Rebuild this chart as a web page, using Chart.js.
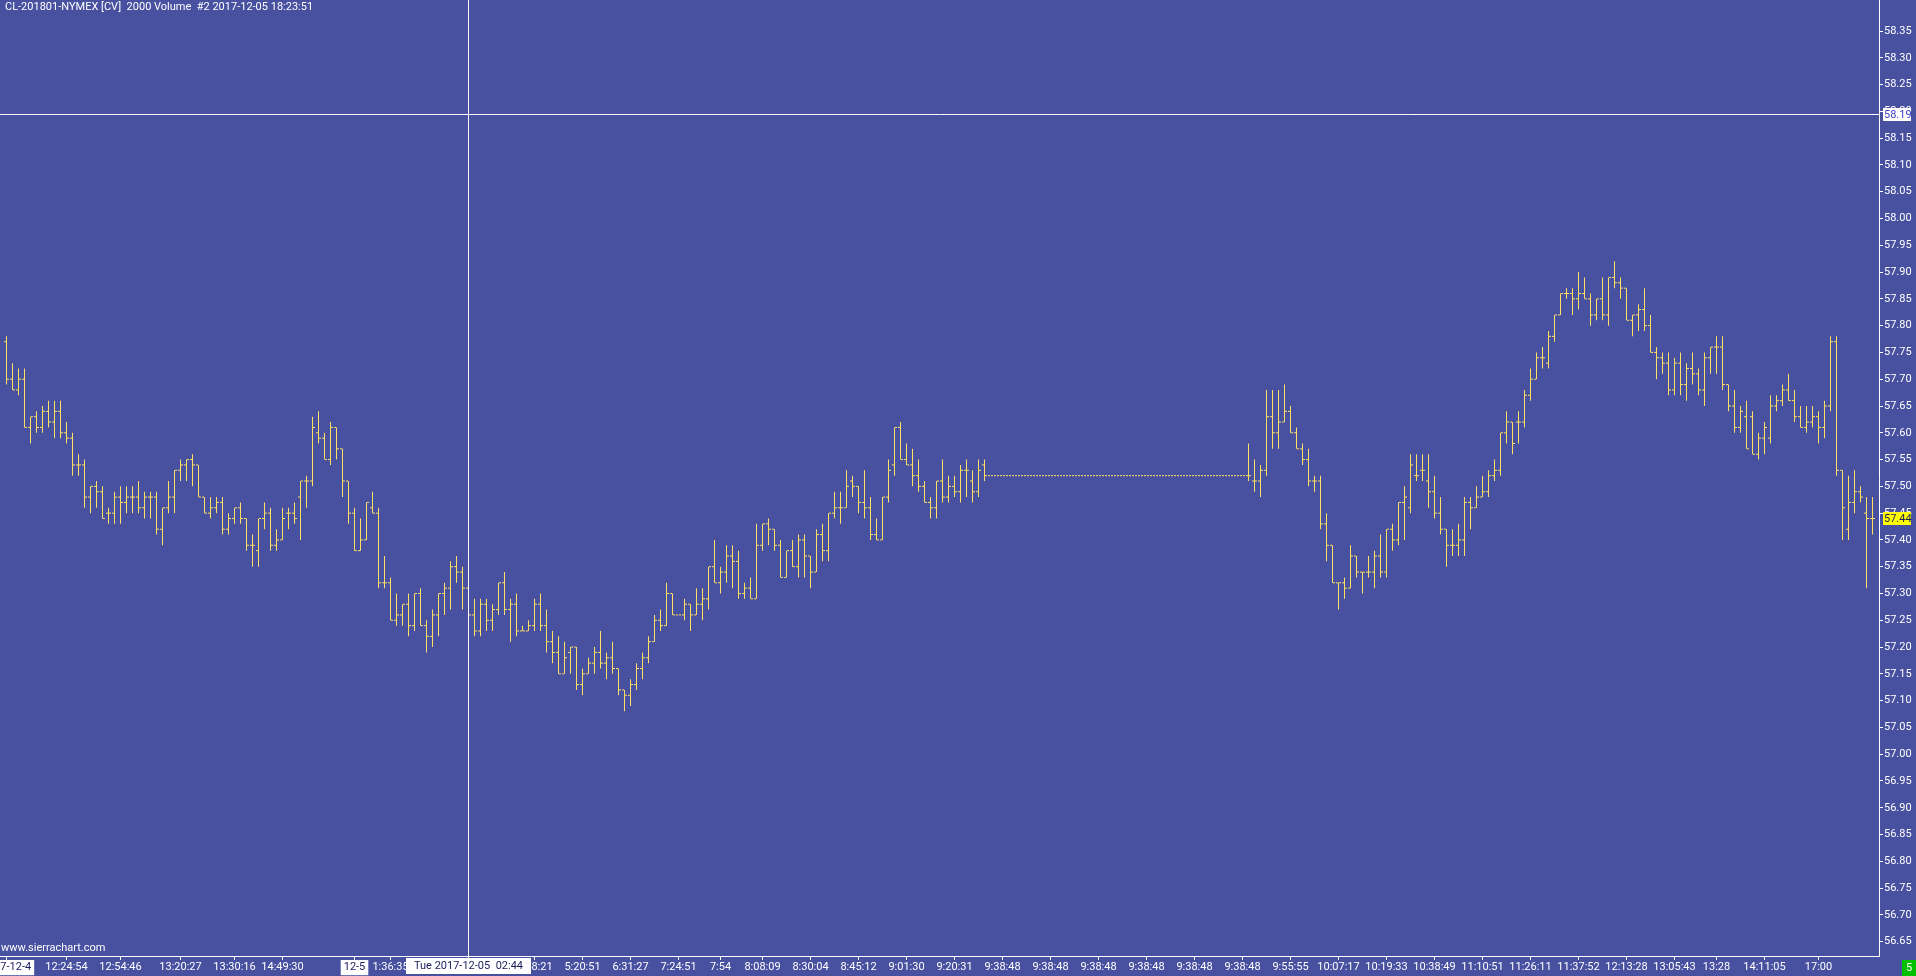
<!DOCTYPE html>
<html>
<head>
<meta charset="utf-8">
<title>CL-201801-NYMEX 2000 Volume</title>
<script src="https://cdn.jsdelivr.net/npm/chart.js@4.4.1/dist/chart.umd.min.js"></script>
<style>
  html, body { margin: 0; padding: 0; background: #4850a0; overflow: hidden; }
  #wrap { position: relative; width: 1916px; height: 976px; }
</style>
</head>
<body>
<div id="wrap"><canvas id="chart" width="1916" height="976"></canvas></div>
<script>
// CL 2000-volume bars, one entry per bar (left to right)
const opens = [
  57.77, 57.70, 57.68, 57.70, 57.61, 57.63, 57.61, 57.64, 57.62, 57.64,
  57.60, 57.59, 57.54, 57.54, 57.48, 57.50, 57.49, 57.45, 57.45, 57.48,
  57.47, 57.48, 57.48, 57.46, 57.48, 57.48, 57.42, 57.46, 57.48, 57.53,
  57.54, 57.55, 57.54, 57.48, 57.45, 57.46, 57.47, 57.42, 57.44, 57.46,
  57.44, 57.39, 57.38, 57.44, 57.45, 57.39, 57.40, 57.45, 57.45, 57.48,
  57.51, 57.51, 57.60, 57.59, 57.55, 57.61, 57.57, 57.51, 57.45, 57.38,
  57.40, 57.46, 57.45, 57.32, 57.32, 57.25, 57.26, 57.28, 57.24, 57.30,
  57.24, 57.22, 57.26, 57.30, 57.31, 57.35, 57.34, 57.31, 57.26, 57.23,
  57.28, 57.25, 57.27, 57.32, 57.27, 57.28, 57.23, 57.23, 57.24, 57.28,
  57.24, 57.21, 57.19, 57.15, 57.19, 57.20, 57.13, 57.15, 57.17, 57.19,
  57.17, 57.18, 57.16, 57.12, 57.11, 57.13, 57.16, 57.18, 57.21, 57.25,
  57.24, 57.30, 57.26, 57.26, 57.28, 57.26, 57.28, 57.29, 57.35, 57.32,
  57.34, 57.37, 57.36, 57.30, 57.31, 57.29, 57.39, 57.43, 57.42, 57.39,
  57.33, 57.38, 57.35, 57.40, 57.37, 57.34, 57.41, 57.38, 57.45, 57.46,
  57.46, 57.51, 57.50, 57.47, 57.46, 57.41, 57.40, 57.48, 57.54, 57.61,
  57.55, 57.54, 57.52, 57.50, 57.47, 57.46, 57.51, 57.48, 57.50, 57.49,
  57.53, 57.51, 57.49, 57.54,
  57.52, 57.52, 57.52, 57.52, 57.52, 57.52, 57.52, 57.52, 57.52, 57.52,
  57.52, 57.52, 57.52, 57.52, 57.52, 57.52, 57.52, 57.52, 57.52, 57.52,
  57.52, 57.52, 57.52, 57.52, 57.52, 57.52, 57.52, 57.52, 57.52, 57.52,
  57.52, 57.52, 57.52, 57.52, 57.52, 57.52, 57.52, 57.52, 57.52, 57.52,
  57.52, 57.52, 57.52,
  57.52, 57.51, 57.51, 57.53, 57.63, 57.60, 57.62, 57.64, 57.60, 57.57,
  57.55, 57.51, 57.51, 57.43, 57.39, 57.32, 57.32, 57.31, 57.37, 57.34,
  57.34, 57.34, 57.37, 57.34, 57.42, 57.40, 57.47, 57.46, 57.52, 57.53,
  57.51, 57.49, 57.45, 57.42, 57.39, 57.39, 57.40,
  57.47, 57.46, 57.48, 57.49, 57.52, 57.53, 57.60, 57.62, 57.62, 57.62,
  57.67, 57.70, 57.74, 57.73, 57.78, 57.82, 57.86, 57.86, 57.85, 57.86,
  57.85, 57.82, 57.85, 57.82, 57.89, 57.88, 57.87, 57.81, 57.82, 57.83,
  57.80, 57.75, 57.74, 57.73,
  57.68, 57.73, 57.69, 57.72, 57.71, 57.68, 57.74, 57.76, 57.76, 57.69,
  57.65, 57.61, 57.63, 57.63, 57.56, 57.59, 57.59, 57.65, 57.66, 57.68,
  57.66, 57.63, 57.61, 57.62, 57.63, 57.61, 57.65, 57.77, 57.53, 57.42,
  57.47, 57.49, 57.45, 57.44
];

const highs = [
  57.78, 57.73, 57.72, 57.72, 57.63, 57.64, 57.65, 57.66, 57.66, 57.66,
  57.62, 57.60, 57.56, 57.55, 57.50, 57.51, 57.50, 57.46, 57.49, 57.50,
  57.50, 57.50, 57.51, 57.49, 57.49, 57.49, 57.46, 57.51, 57.53, 57.55,
  57.55, 57.56, 57.54, 57.48, 57.48, 57.48, 57.48, 57.45, 57.46, 57.47,
  57.44, 57.41, 57.44, 57.47, 57.46, 57.42, 57.46, 57.46, 57.47, 57.51,
  57.52, 57.63, 57.64, 57.60, 57.62, 57.61, 57.57, 57.51, 57.46, 57.44,
  57.47, 57.49, 57.46, 57.37, 57.33, 57.30, 57.28, 57.30, 57.30, 57.31,
  57.25, 57.27, 57.30, 57.32, 57.36, 57.37, 57.35, 57.32, 57.29, 57.29,
  57.29, 57.28, 57.32, 57.34, 57.29, 57.30, 57.24, 57.25, 57.29, 57.30,
  57.27, 57.23, 57.22, 57.21, 57.20, 57.20, 57.16, 57.18, 57.20, 57.23,
  57.19, 57.21, 57.16, 57.12, 57.14, 57.17, 57.19, 57.22, 57.26, 57.27,
  57.32, 57.30, 57.26, 57.29, 57.28, 57.31, 57.31, 57.35, 57.40, 57.35,
  57.39, 57.39, 57.38, 57.32, 57.33, 57.43, 57.43, 57.44, 57.42, 57.40,
  57.38, 57.40, 57.41, 57.41, 57.37, 57.42, 57.43, 57.45, 57.49, 57.49,
  57.53, 57.52, 57.50, 57.53, 57.48, 57.44, 57.48, 57.55, 57.61, 57.62,
  57.58, 57.57, 57.55, 57.51, 57.48, 57.51, 57.55, 57.52, 57.52, 57.54,
  57.55, 57.53, 57.55, 57.55,
  57.52, 57.52, 57.52, 57.52, 57.52, 57.52, 57.52, 57.52, 57.52, 57.52,
  57.52, 57.52, 57.52, 57.52, 57.52, 57.52, 57.52, 57.52, 57.52, 57.52,
  57.52, 57.52, 57.52, 57.52, 57.52, 57.52, 57.52, 57.52, 57.52, 57.52,
  57.52, 57.52, 57.52, 57.52, 57.52, 57.52, 57.52, 57.52, 57.52, 57.52,
  57.52, 57.52, 57.52,
  57.58, 57.55, 57.54, 57.68, 57.68, 57.68, 57.69, 57.65, 57.61, 57.58,
  57.57, 57.52, 57.52, 57.45, 57.39, 57.32, 57.33, 57.39, 57.37, 57.34,
  57.37, 57.38, 57.41, 57.42, 57.43, 57.47, 57.50, 57.56, 57.56, 57.56,
  57.56, 57.52, 57.48, 57.42, 57.42, 57.43, 57.48,
  57.48, 57.50, 57.52, 57.53, 57.55, 57.60, 57.64, 57.62, 57.64, 57.68,
  57.72, 57.75, 57.76, 57.79, 57.82, 57.86, 57.87, 57.87, 57.90, 57.89,
  57.86, 57.85, 57.89, 57.89, 57.92, 57.89, 57.87, 57.82, 57.84, 57.87,
  57.82, 57.76, 57.75, 57.75,
  57.74, 57.75, 57.73, 57.75, 57.72, 57.75, 57.76, 57.78, 57.78, 57.69,
  57.68, 57.65, 57.66, 57.64, 57.60, 57.62, 57.67, 57.67, 57.69, 57.71,
  57.68, 57.65, 57.65, 57.65, 57.64, 57.66, 57.78, 57.78, 57.53, 57.52,
  57.53, 57.50, 57.48, 57.48
];

const lows = [
  57.69, 57.68, 57.67, 57.61, 57.58, 57.60, 57.60, 57.61, 57.59, 57.59,
  57.58, 57.52, 57.52, 57.46, 57.45, 57.46, 57.44, 57.43, 57.43, 57.43,
  57.45, 57.45, 57.45, 57.44, 57.44, 57.41, 57.39, 57.45, 57.45, 57.51,
  57.51, 57.50, 57.48, 57.45, 57.44, 57.45, 57.41, 57.41, 57.43, 57.43,
  57.38, 57.35, 57.35, 57.42, 57.38, 57.38, 57.40, 57.42, 57.43, 57.40,
  57.46, 57.50, 57.58, 57.55, 57.54, 57.55, 57.48, 57.43, 57.38, 57.38,
  57.40, 57.45, 57.31, 57.31, 57.25, 57.24, 57.24, 57.22, 57.23, 57.24,
  57.19, 57.20, 57.22, 57.26, 57.27, 57.32, 57.27, 57.24, 57.22, 57.22,
  57.23, 57.23, 57.26, 57.26, 57.21, 57.22, 57.23, 57.23, 57.23, 57.23,
  57.19, 57.17, 57.15, 57.15, 57.15, 57.12, 57.11, 57.15, 57.15, 57.16,
  57.14, 57.15, 57.11, 57.08, 57.09, 57.12, 57.14, 57.17, 57.21, 57.23,
  57.24, 57.26, 57.26, 57.25, 57.23, 57.26, 57.25, 57.27, 57.32, 57.30,
  57.32, 57.31, 57.29, 57.29, 57.29, 57.29, 57.38, 57.39, 57.38, 57.33,
  57.33, 57.35, 57.33, 57.33, 57.31, 57.34, 57.36, 57.36, 57.44, 57.43,
  57.46, 57.48, 57.45, 57.44, 57.40, 57.40, 57.40, 57.47, 57.52, 57.55,
  57.54, 57.50, 57.49, 57.47, 57.44, 57.44, 57.47, 57.47, 57.48, 57.47,
  57.48, 57.47, 57.48, 57.51,
  57.52, 57.52, 57.52, 57.52, 57.52, 57.52, 57.52, 57.52, 57.52, 57.52,
  57.52, 57.52, 57.52, 57.52, 57.52, 57.52, 57.52, 57.52, 57.52, 57.52,
  57.52, 57.52, 57.52, 57.52, 57.52, 57.52, 57.52, 57.52, 57.52, 57.52,
  57.52, 57.52, 57.52, 57.52, 57.52, 57.52, 57.52, 57.52, 57.52, 57.52,
  57.52, 57.52, 57.52,
  57.51, 57.49, 57.48, 57.52, 57.57, 57.57, 57.62, 57.60, 57.57, 57.54,
  57.50, 57.49, 57.42, 57.36, 57.32, 57.27, 57.29, 57.31, 57.33, 57.30,
  57.33, 57.31, 57.33, 57.33, 57.38, 57.39, 57.40, 57.45, 57.51, 57.51,
  57.46, 57.44, 57.41, 57.35, 57.37, 57.37, 57.37,
  57.42, 57.46, 57.48, 57.48, 57.51, 57.52, 57.58, 57.56, 57.58, 57.61,
  57.66, 57.70, 57.72, 57.72, 57.77, 57.82, 57.85, 57.82, 57.83, 57.85,
  57.80, 57.81, 57.81, 57.80, 57.87, 57.85, 57.81, 57.78, 57.79, 57.79,
  57.75, 57.70, 57.71, 57.67,
  57.67, 57.67, 57.66, 57.69, 57.67, 57.65, 57.71, 57.71, 57.68, 57.64,
  57.60, 57.60, 57.57, 57.56, 57.55, 57.56, 57.58, 57.64, 57.65, 57.66,
  57.62, 57.61, 57.60, 57.61, 57.58, 57.59, 57.64, 57.52, 57.40, 57.40,
  57.45, 57.47, 57.31, 57.41
];

const closes = [
  57.70, 57.68, 57.70, 57.61, 57.63, 57.61, 57.64, 57.62, 57.64, 57.60,
  57.59, 57.54, 57.54, 57.48, 57.50, 57.49, 57.44, 57.45, 57.48, 57.47,
  57.48, 57.48, 57.46, 57.48, 57.48, 57.42, 57.46, 57.48, 57.53, 57.54,
  57.55, 57.54, 57.48, 57.45, 57.46, 57.47, 57.42, 57.44, 57.46, 57.44,
  57.39, 57.39, 57.44, 57.45, 57.39, 57.40, 57.44, 57.45, 57.44, 57.51,
  57.51, 57.61, 57.59, 57.55, 57.61, 57.57, 57.51, 57.45, 57.38, 57.40,
  57.47, 57.45, 57.32, 57.32, 57.25, 57.26, 57.28, 57.24, 57.30, 57.24,
  57.22, 57.26, 57.30, 57.31, 57.35, 57.34, 57.31, 57.26, 57.23, 57.28,
  57.25, 57.27, 57.32, 57.27, 57.28, 57.23, 57.23, 57.24, 57.28, 57.24,
  57.21, 57.19, 57.15, 57.18, 57.20, 57.13, 57.15, 57.17, 57.19, 57.17,
  57.18, 57.16, 57.12, 57.11, 57.13, 57.16, 57.18, 57.21, 57.25, 57.24,
  57.30, 57.26, 57.26, 57.28, 57.26, 57.28, 57.29, 57.35, 57.32, 57.34,
  57.37, 57.36, 57.30, 57.31, 57.29, 57.39, 57.43, 57.42, 57.39, 57.33,
  57.38, 57.35, 57.40, 57.37, 57.34, 57.41, 57.38, 57.45, 57.46, 57.46,
  57.50, 57.50, 57.47, 57.46, 57.41, 57.40, 57.48, 57.53, 57.61, 57.55,
  57.54, 57.52, 57.50, 57.47, 57.46, 57.51, 57.48, 57.50, 57.49, 57.53,
  57.53, 57.49, 57.53, 57.52,
  57.52, 57.52, 57.52, 57.52, 57.52, 57.52, 57.52, 57.52, 57.52, 57.52,
  57.52, 57.52, 57.52, 57.52, 57.52, 57.52, 57.52, 57.52, 57.52, 57.52,
  57.52, 57.52, 57.52, 57.52, 57.52, 57.52, 57.52, 57.52, 57.52, 57.52,
  57.52, 57.52, 57.52, 57.52, 57.52, 57.52, 57.52, 57.52, 57.52, 57.52,
  57.52, 57.52, 57.52,
  57.52, 57.51, 57.53, 57.63, 57.60, 57.62, 57.64, 57.60, 57.57, 57.55,
  57.51, 57.51, 57.43, 57.39, 57.32, 57.32, 57.31, 57.37, 57.34, 57.34,
  57.34, 57.37, 57.34, 57.42, 57.40, 57.47, 57.48, 57.54, 57.52, 57.53,
  57.49, 57.45, 57.42, 57.39, 57.39, 57.40, 57.47,
  57.46, 57.48, 57.49, 57.52, 57.53, 57.60, 57.62, 57.58, 57.62, 57.67,
  57.70, 57.74, 57.74, 57.78, 57.82, 57.86, 57.86, 57.85, 57.86, 57.85,
  57.82, 57.85, 57.82, 57.89, 57.88, 57.87, 57.81, 57.82, 57.83, 57.80,
  57.75, 57.74, 57.73, 57.68,
  57.73, 57.69, 57.72, 57.71, 57.68, 57.74, 57.76, 57.76, 57.69, 57.65,
  57.61, 57.64, 57.57, 57.56, 57.59, 57.61, 57.65, 57.66, 57.68, 57.66,
  57.63, 57.61, 57.62, 57.63, 57.61, 57.65, 57.77, 57.53, 57.46, 57.47,
  57.49, 57.48, 57.44, 57.44
];

// time axis labels and the bar each one sits under
const timeTickBars = [0, 10, 19, 29, 38, 46, 58, 64, 88, 96, 104, 112, 119, 126, 134, 142, 150, 158,
  166, 174, 182, 190, 198, 206, 214, 222, 230, 238, 246, 254, 262, 270, 278, 285, 293, 302];
const timeTickLabels = ['2017-12-4', '12:24:54', '12:54:46', '13:20:27', '13:30:16', '14:49:30', '12-5',
  '1:36:35', '3:48:21', '5:20:51', '6:31:27', '7:24:51', '7:54', '8:08:09', '8:30:04', '8:45:12',
  '9:01:30', '9:20:31', '9:38:48', '9:38:48', '9:38:48', '9:38:48', '9:38:48', '9:38:48', '9:55:55',
  '10:07:17', '10:19:33', '10:38:49', '11:10:51', '11:26:11', '11:37:52', '12:13:28', '13:05:43',
  '13:28', '14:11:05', '17:00'];

const priceTicks = [56.65, 56.70, 56.75, 56.80, 56.85, 56.90, 56.95, 57.00, 57.05, 57.10, 57.15, 57.20,
  57.25, 57.30, 57.35, 57.40, 57.45, 57.50, 57.55, 57.60, 57.65, 57.70, 57.75, 57.80, 57.85, 57.90,
  57.95, 58.00, 58.05, 58.10, 58.15, 58.20, 58.25, 58.30, 58.35];

// crosshair position
const cursorBar = 77;
const cursorPrice = 58.194;
const cursorText = 'Tue 2017-12-05  02:44';

const titleText = 'CL-201801-NYMEX [CV]  2000 Volume  #2 2017-12-05 18:23:51';

const FONT = 'Roboto, "Liberation Sans", sans-serif';
const BAR = '#ffe064';
const TEXT = '#ffffff';
const DARK = '#1c1c5c';

const barIdx = opens.map((_, i) => i);

const overlay = {
  id: 'overlay',
  afterDraw(chart) {
    const { ctx, chartArea, scales: { x, y } } = chart;
    ctx.save();

    // title + watermark
    ctx.font = '11px ' + FONT;
    ctx.fillStyle = TEXT;
    ctx.textBaseline = 'top';
    ctx.textAlign = 'left';
    ctx.fillText(titleText, 5, 2);
    ctx.fillText('www.sierrachart.com', 1, 943);

    // crosshair
    const cx = Math.floor(x.getPixelForValue(cursorBar)) + 0.5;
    const cy = Math.floor(y.getPixelForValue(cursorPrice)) + 0.5;
    ctx.strokeStyle = '#ffffff';
    ctx.lineWidth = 1;
    ctx.beginPath();
    ctx.moveTo(cx, 0);
    ctx.lineTo(cx, chartArea.bottom + 2);
    ctx.moveTo(0, cy);
    ctx.lineTo(chartArea.right, cy);
    ctx.stroke();

    ctx.textBaseline = 'middle';
    // crosshair price on the axis
    ctx.fillStyle = '#ffffff';
    ctx.fillRect(chartArea.right + 4, cy - 6.5, 28, 13);
    ctx.fillStyle = '#3d3dc8';
    ctx.fillText(cursorPrice.toFixed(2), chartArea.right + 5, cy + 0.5);

    // last price
    const last = closes[closes.length - 1];
    const ly = Math.round(y.getPixelForValue(last));
    ctx.fillStyle = '#ffff00';
    ctx.fillRect(chartArea.right + 4, ly - 6, 28, 13);
    ctx.fillStyle = DARK;
    ctx.fillText(last.toFixed(2), chartArea.right + 5, ly + 1);

    // crosshair time box
    const tw = ctx.measureText(cursorText).width + 16;
    ctx.fillStyle = '#ffffff';
    ctx.fillRect(Math.round(cx - tw / 2), chartArea.bottom + 2, Math.round(tw), 16);
    ctx.fillStyle = DARK;
    ctx.textAlign = 'center';
    ctx.fillText(cursorText, cx, chartArea.bottom + 10.5);

    // bars-remaining box
    ctx.fillStyle = '#00c000';
    ctx.fillRect(1902, 960, 14, 16);
    ctx.fillStyle = '#ffffff';
    ctx.fillText('5', 1909, 968.5);

    ctx.restore();
  }
};

new Chart(document.getElementById('chart'), {
  type: 'bar',
  data: {
    datasets: [
      {
        type: 'bar',
        data: barIdx.map(i => ({ x: i, y: [lows[i], highs[i]] })),
        backgroundColor: BAR,
        borderWidth: 0,
        barThickness: 1,
        inflateAmount: 0
      },
      {
        type: 'line',
        data: barIdx.map(i => ({ x: i - 0.25, y: opens[i] })),
        showLine: false,
        pointStyle: 'line',
        pointRadius: 1,
        pointBorderWidth: 1,
        pointBorderColor: BAR,
        pointBackgroundColor: BAR
      },
      {
        type: 'line',
        data: barIdx.map(i => ({ x: i + 0.25, y: closes[i] })),
        showLine: false,
        pointStyle: 'line',
        pointRadius: 1,
        pointBorderWidth: 1,
        pointBorderColor: BAR,
        pointBackgroundColor: BAR
      }
    ]
  },
  options: {
    responsive: false,
    devicePixelRatio: 1,
    animation: false,
    events: [],
    layout: { padding: 0, autoPadding: false },
    plugins: {
      legend: { display: false },
      title: { display: false },
      tooltip: { enabled: false }
    },
    scales: {
      x: {
        type: 'linear',
        offset: false,
        min: -6.5 / 6,
        max: -6.5 / 6 + 1879 / 6,
        border: { display: true, color: '#ffffff', width: 1 },
        grid: { offset: false, drawOnChartArea: false, drawTicks: true, tickLength: 4, color: '#ffffff', tickColor: '#ffffff' },
        ticks: {
          autoSkip: false,
          maxRotation: 0,
          padding: 1,
          font: { family: FONT, size: 11 },
          color: c => (timeTickLabels[c.index] || '').includes('-') ? DARK : TEXT,
          showLabelBackdrop: c => (timeTickLabels[c.index] || '').includes('-'),
          backdropColor: '#ffffff',
          backdropPadding: { x: 3, y: 1 },
          callback: (v, i) => timeTickLabels[i]
        },
        afterBuildTicks: s => { s.ticks = timeTickBars.map(v => ({ value: v })); },
        afterFit: s => { s.height = 20; s.paddingLeft = 0; s.paddingRight = 0; }
      },
      y: {
        type: 'linear',
        position: 'right',
        offset: false,
        min: 56.6233,
        max: 58.4079,
        border: { display: true, color: '#ffffff', width: 1 },
        grid: { drawOnChartArea: false, drawTicks: true, tickLength: 4, color: '#ffffff', tickColor: '#ffffff' },
        ticks: {
          padding: 1,
          color: TEXT,
          font: { family: FONT, size: 11 },
          callback: v => v.toFixed(2)
        },
        afterBuildTicks: s => { s.ticks = priceTicks.map(v => ({ value: v })); },
        afterFit: s => { s.width = 37; s.paddingTop = 0; s.paddingBottom = 0; }
      }
    }
  },
  plugins: [overlay]
});
</script>
</body>
</html>
